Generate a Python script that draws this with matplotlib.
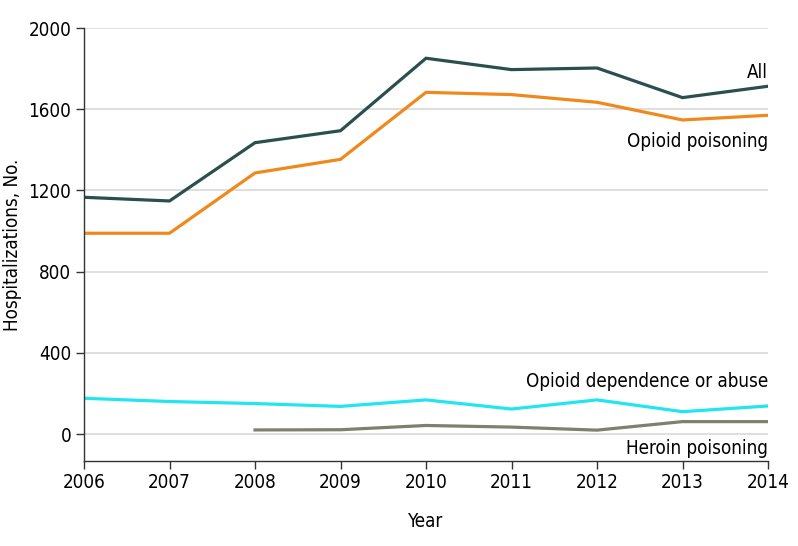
import matplotlib
matplotlib.use("Agg")
import matplotlib.pyplot as plt

plt.rcParams['font.family'] = ['DejaVu Sans']
plt.rcParams['font.stretch'] = 'condensed'

years = [2006, 2007, 2008, 2009, 2010, 2011, 2012, 2013, 2014]
all_hosp = [1166, 1148, 1435, 1494, 1851, 1795, 1803, 1657, 1713]
opioid_poisoning = [989, 989, 1286, 1353, 1683, 1672, 1634, 1547, 1570]
dependence = [176, 160, 150, 136, 168, 123, 168, 110, 138]
heroin_years = [2008, 2009, 2010, 2011, 2012, 2013, 2014]
heroin = [20, 21, 42, 34, 19, 61, 61]
yticks = [0, 400, 800, 1200, 1600, 2000]

fig = plt.figure(figsize=(7.98, 5.46), dpi=100)
ax = fig.add_axes([84/798, 1-461/546, (768-84)/798, (461-28)/546])

ax.plot(years, all_hosp, color='#2b4f4e', lw=2.3, solid_joinstyle='miter')
ax.plot(years, opioid_poisoning, color='#f0891d', lw=2.3, solid_joinstyle='miter')
ax.plot(years, dependence, color='#22e5f0', lw=2.3, solid_joinstyle='miter')
ax.plot(heroin_years, heroin, color='#80806f', lw=2.3, solid_joinstyle='miter')

ax.set_xlim(2006, 2014)
ax.set_ylim(-133, 2000)
ax.set_yticks(yticks)
ax.set_xticks(years)
ax.grid(axis='y', color='#d9d9d9', lw=1.2)
ax.set_axisbelow(True)
for s in ['top', 'right']:
    ax.spines[s].set_visible(False)
for s in ['left', 'bottom']:
    ax.spines[s].set_color('#333333')
    ax.spines[s].set_linewidth(1.0)
ax.tick_params(axis='both', labelsize=13.5, length=6, width=1, color='#333333', pad=3)
ax.set_xlabel('Year', fontsize=13.5, labelpad=14)
ax.set_ylabel('Hospitalizations, No.', fontsize=13.5, va='center')
ax.yaxis.set_label_coords(-0.105, 0.5)

kw = dict(ha='right', va='center', fontsize=13.5)
ax.text(2014, 1783, 'All', **kw)
ax.text(2014, 1443, 'Opioid poisoning', **kw)
ax.text(2014, 261, 'Opioid dependence or abuse', **kw)
ax.text(2014, -69, 'Heroin poisoning', **kw)

fig.savefig('out.png', dpi=100)
